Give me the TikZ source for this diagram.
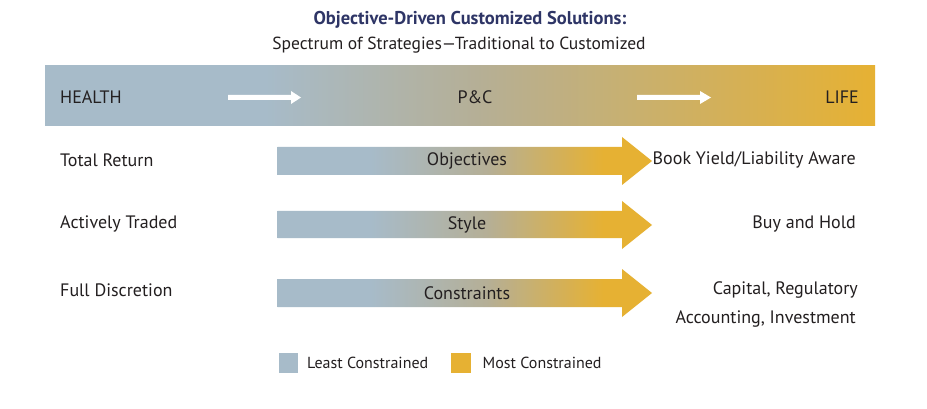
\documentclass[tikz,border=0pt]{standalone}
\usepackage{fontspec}
\setmainfont{PT Sans}
\definecolor{sblue}{HTML}{A7BBC9}
\definecolor{sgold}{HTML}{E6B133}
\definecolor{smid}{HTML}{B5AF96}
\definecolor{navy}{HTML}{2E3566}
\definecolor{ink}{HTML}{231F20}
\pgfdeclarehorizontalshading{bandshade}{100bp}{color(0bp)=(sblue); color(38.3bp)=(sblue); color(51bp)=(smid); color(75bp)=(sgold); color(100bp)=(sgold)}
\pgfdeclarehorizontalshading{arrowshade}{100bp}{color(0bp)=(sblue); color(37.4bp)=(sblue); color(53bp)=(smid); color(68.5bp)=(sgold); color(100bp)=(sgold)}
\begin{document}
\begin{tikzpicture}[x=1pt,y=-1pt,
  lbl/.style={text=ink,font=\fontsize{18}{20}\selectfont,inner sep=0pt},
  leg/.style={text=ink,font=\fontsize{16}{18}\selectfont,inner sep=0pt},
  sub/.style={text=ink,font=\fontsize{17.5}{20}\selectfont,inner sep=0pt},
  ttl/.style={text=navy,font=\fontsize{18.5}{20}\selectfont\bfseries,inner sep=0pt},
  wht/.style={fill=white,draw=none}]
\useasboundingbox[fill=white] (0,0) rectangle (927,409);
% title
\node[ttl] (title) at (470,20) {Objective-Driven Customized Solutions:};
\node[sub] (subtitle) at (459,45) {Spectrum of Strategies—Traditional to Customized};
% band
\shade[shading=bandshade] (45,66) rectangle (875,126);
\node[lbl,anchor=west] (health) at (60,97) {HEALTH};
\node[lbl] (pc) at (475,97) {P\&C};
\node[lbl,anchor=east] (life) at (859,97) {LIFE};
\fill[wht] (228,95) -- (291,95) -- (291,91) -- (301,97.5) -- (291,104) -- (291,100) -- (228,100) -- cycle;
\fill[wht] (637,95) -- (700,95) -- (700,91) -- (711,97.5) -- (700,104) -- (700,100) -- (637,100) -- cycle;
% arrows
\shade[shading=arrowshade] (277.5,147) -- (622,147) -- (622,137) -- (652,161) -- (622,185) -- (622,175) -- (277.5,175) -- cycle;
\shade[shading=arrowshade] (277.5,211) -- (622,211) -- (622,201) -- (652,225) -- (622,249) -- (622,238) -- (277.5,238) -- cycle;
\shade[shading=arrowshade] (277.5,279) -- (622,279) -- (622,269) -- (652,293) -- (622,317) -- (622,307) -- (277.5,307) -- cycle;
\node[lbl] (obj) at (467,161) {Objectives};
\node[lbl] (sty) at (467,225) {Style};
\node[lbl] (con) at (467,293) {Constraints};
% left labels
\node[lbl,anchor=west] (tr) at (60,160) {Total Return};
\node[lbl,anchor=west] (at) at (60,224) {Actively Traded};
\node[lbl,anchor=west] (fd) at (60,290) {Full Discretion};
% right labels
\node[lbl,anchor=east] (by) at (856,160) {Book Yield/Liability Aware};
\node[lbl,anchor=east] (bh) at (856,224) {Buy and Hold};
\node[lbl,anchor=east] (cr) at (858,290) {Capital, Regulatory};
\node[lbl,anchor=east] (ai) at (856,319) {Accounting, Investment};
% legend
\fill[sblue] (279,353) rectangle (297.5,372.5);
\fill[sgold] (451,353) rectangle (471,372.5);
\node[leg,anchor=west] (lc) at (307,363) {Least Constrained};
\node[leg,anchor=west] (mc) at (482.5,363) {Most Constrained};
\end{tikzpicture}
\end{document}
